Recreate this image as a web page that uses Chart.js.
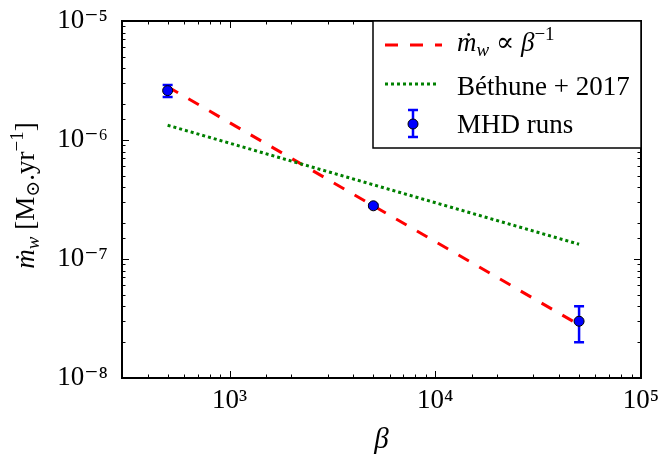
<!DOCTYPE html>
<html><head><meta charset="utf-8">
<script src="https://cdn.jsdelivr.net/npm/chart.js@4.4.1/dist/chart.umd.min.js"></script>
<style>html,body{margin:0;padding:0;background:#fff;}#wrap{width:659px;height:459px;position:relative;}canvas{display:block;}</style>
</head><body><div id="wrap"><canvas id="c" width="659" height="459"></canvas></div>
<script>
// ---- data ----
const betaRuns = [500, 5000, 50000];
const mdotRuns = [2.6e-6, 2.8e-7, 3.0e-8];
const mdotRunsLow = [2.3e-6, 2.73e-7, 2.0e-8];
const mdotRunsHigh = [2.9e-6, 2.87e-7, 4.0e-8];
const betaFit = [500, 50000];
const mdotFit = [2.8e-6, 2.8e-8];
const betaBethune = [500, 50000];
const mdotBethune = [1.33e-6, 1.33e-7];
const xTickValues = [1e3, 1e4, 1e5];
const xTickLabels = ['10\u00B3', '10\u2074', '10\u2075'];
const yTickValues = [1e-8, 1e-7, 1e-6, 1e-5];
const yTickLabels = ['10\u207B\u2078', '10\u207B\u2077', '10\u207B\u2076', '10\u207B\u2075'];
const legendLabels = ['fit', 'B\u00E9thune + 2017', 'MHD runs'];

const FAM = '"Liberation Serif", "DejaVu Serif", serif';
function isDecade(v) { const l = Math.log10(v); return Math.abs(l - Math.round(l)) < 1e-6; }
function labelFor(v, vals, labs) {
  for (let i = 0; i < vals.length; i++) if (Math.abs(Math.log10(v) - Math.log10(vals[i])) < 1e-6) return labs[i];
  return '';
}
function richWidth(ctx, parts) {
  let w = 0;
  for (const p of parts) { ctx.font = (p.it ? 'italic ' : '') + p.size + 'px ' + FAM; w += ctx.measureText(p.t).width + (p.kern || 0); }
  return w;
}
function drawRich(ctx, parts, x, y) {
  let cx = x;
  ctx.textBaseline = 'alphabetic'; ctx.textAlign = 'left';
  for (const p of parts) {
    ctx.font = (p.it ? 'italic ' : '') + p.size + 'px ' + FAM;
    ctx.fillText(p.t, cx, y + (p.dy || 0));
    cx += ctx.measureText(p.t).width + (p.kern || 0);
  }
}

const decor = {
  id: 'decor',
  beforeDatasetDraw(chart, args) {
    if (args.index !== 0) return;
    const ctx = chart.ctx, xs = chart.scales.x, ys = chart.scales.y;
    ctx.save();
    ctx.strokeStyle = '#0000ff'; ctx.lineWidth = 2.5;
    for (let i = 0; i < betaRuns.length; i++) {
      const px = xs.getPixelForValue(betaRuns[i]);
      const p1 = ys.getPixelForValue(mdotRunsHigh[i]);
      const p2 = ys.getPixelForValue(mdotRunsLow[i]);
      ctx.beginPath();
      ctx.moveTo(px, p1); ctx.lineTo(px, p2);
      ctx.moveTo(px - 5, p1); ctx.lineTo(px + 5, p1);
      ctx.moveTo(px - 5, p2); ctx.lineTo(px + 5, p2);
      ctx.stroke();
    }
    ctx.restore();
  },
  afterDraw(chart) {
    const ctx = chart.ctx, a = chart.chartArea, xs = chart.scales.x, ys = chart.scales.y;
    ctx.save();
    ctx.strokeStyle = '#000'; ctx.lineWidth = 1;
    // inward ticks on all four sides
    for (const t of xs.ticks) {
      const px = Math.round(xs.getPixelForValue(t.value)) + 0.5;
      if (px < a.left + 1 || px > a.right - 1) continue;
      const L = isDecade(t.value) ? 7 : 3.5;
      ctx.beginPath();
      ctx.moveTo(px, a.bottom); ctx.lineTo(px, a.bottom - L);
      ctx.moveTo(px, a.top); ctx.lineTo(px, a.top + L);
      ctx.stroke();
    }
    for (const t of ys.ticks) {
      const py = Math.round(ys.getPixelForValue(t.value)) + 0.5;
      if (py < a.top + 1 || py > a.bottom - 1) continue;
      const L = isDecade(t.value) ? 7 : 3.5;
      ctx.beginPath();
      ctx.moveTo(a.left, py); ctx.lineTo(a.left + L, py);
      ctx.moveTo(a.right, py); ctx.lineTo(a.right - L, py);
      ctx.stroke();
    }
    // frame
    ctx.lineWidth = 2;
    ctx.strokeRect(a.left, a.top, a.right - a.left, a.bottom - a.top);

    // legend
    const lx = 373, ly = a.top, lw = a.right - lx, lh = 127;
    ctx.fillStyle = '#fff';
    ctx.fillRect(lx, ly, lw, lh);
    ctx.lineWidth = 1.5;
    ctx.strokeRect(lx, ly, lw, lh);
    // row 1: red dashed
    ctx.strokeStyle = '#ff0000'; ctx.lineWidth = 3; ctx.setLineDash([13, 12]);
    ctx.beginPath(); ctx.moveTo(385, 45); ctx.lineTo(442, 45); ctx.stroke();
    // row 2: green dotted
    ctx.strokeStyle = '#008000'; ctx.setLineDash([3, 3]);
    ctx.beginPath(); ctx.moveTo(385, 84); ctx.lineTo(439, 84); ctx.stroke();
    ctx.setLineDash([]);
    // row 3: error bar marker
    ctx.strokeStyle = '#0000ff'; ctx.lineWidth = 2.5;
    ctx.beginPath();
    ctx.moveTo(413, 110); ctx.lineTo(413, 137);
    ctx.moveTo(408, 110); ctx.lineTo(418, 110);
    ctx.moveTo(408, 137); ctx.lineTo(418, 137);
    ctx.stroke();
    ctx.beginPath(); ctx.arc(413, 124, 5, 0, Math.PI * 2);
    ctx.fillStyle = '#0000ff'; ctx.fill();
    ctx.strokeStyle = '#000'; ctx.lineWidth = 1; ctx.stroke();

    ctx.fillStyle = '#000';
    drawRich(ctx, [
      { t: '\u1E41', it: true, size: 27 },
      { t: 'w', it: true, size: 19, dy: 5 },
      { t: ' \u221D ', size: 27 },
      { t: '\u03B2', it: true, size: 27 },
      { t: '\u22121', size: 19, dy: -11 }
    ], 457, 51);
    drawRich(ctx, [{ t: legendLabels[1], size: 27 }], 457, 95);
    drawRich(ctx, [{ t: legendLabels[2], size: 27 }], 457, 133);

    // x-axis title
    const bx = [{ t: '\u03B2', it: true, size: 29 }];
    drawRich(ctx, bx, (a.left + a.right) / 2 - richWidth(ctx, bx) / 2, 448);

    // y-axis title (rotated)
    const yparts = [
      { t: '\u1E41', it: true, size: 27 },
      { t: 'w', it: true, size: 19, dy: 5 },
      { t: ' [M', size: 27 },
      { t: '\u2299', size: 19, dy: 5 },
      { t: '.yr', size: 27 },
      { t: '\u22121', size: 19, dy: -11 },
      { t: ']', size: 27 }
    ];
    const yw = richWidth(ctx, yparts);
    ctx.translate(34, (a.top + a.bottom) / 2 - 4);
    ctx.rotate(-Math.PI / 2);
    drawRich(ctx, yparts, -yw / 2, 0);
    ctx.restore();
  }
};

new Chart(document.getElementById('c').getContext('2d'), {
  type: 'scatter',
  data: {
    datasets: [
      {
        label: legendLabels[2],
        data: betaRuns.map((x, i) => ({ x: x, y: mdotRuns[i] })),
        backgroundColor: '#0000ff', borderColor: '#000000', borderWidth: 1,
        pointRadius: 5, showLine: false, order: 0
      },
      {
        label: legendLabels[0], type: 'line',
        data: betaFit.map((x, i) => ({ x: x, y: mdotFit[i] })),
        borderColor: '#ff0000', borderWidth: 3, borderDash: [12, 12],
        pointRadius: 0, fill: false, order: 2
      },
      {
        label: legendLabels[1], type: 'line',
        data: betaBethune.map((x, i) => ({ x: x, y: mdotBethune[i] })),
        borderColor: '#008000', borderWidth: 3, borderDash: [3, 3],
        pointRadius: 0, fill: false, order: 1
      }
    ]
  },
  options: {
    responsive: false, animation: false, devicePixelRatio: 1,
    layout: { padding: { left: 0, top: 21, right: 18, bottom: 0 } },
    plugins: { legend: { display: false }, tooltip: { enabled: false } },
    scales: {
      x: {
        type: 'logarithmic', min: 300, max: 1e5, position: 'bottom',
        grid: { display: false, drawTicks: false }, border: { display: false },
        ticks: {
          autoSkip: false, maxRotation: 0, minRotation: 0, padding: 7, color: '#000',
          font: { family: FAM, size: 27, lineHeight: 1.2 },
          callback: (v) => labelFor(v, xTickValues, xTickLabels)
        },
        afterFit: (s) => { s.height = 81; s.paddingLeft = 0; s.paddingRight = 0; }
      },
      y: {
        type: 'logarithmic', min: 1e-8, max: 1e-5,
        grid: { display: false, drawTicks: false }, border: { display: false },
        ticks: {
          autoSkip: false, padding: 14, color: '#000',
          font: { family: FAM, size: 27, lineHeight: 1.2 },
          callback: (v) => labelFor(v, yTickValues, yTickLabels)
        },
        afterFit: (s) => { s.width = 122; s.paddingTop = 0; s.paddingBottom = 0; }
      }
    }
  },
  plugins: [decor]
});
</script>
</body></html>
